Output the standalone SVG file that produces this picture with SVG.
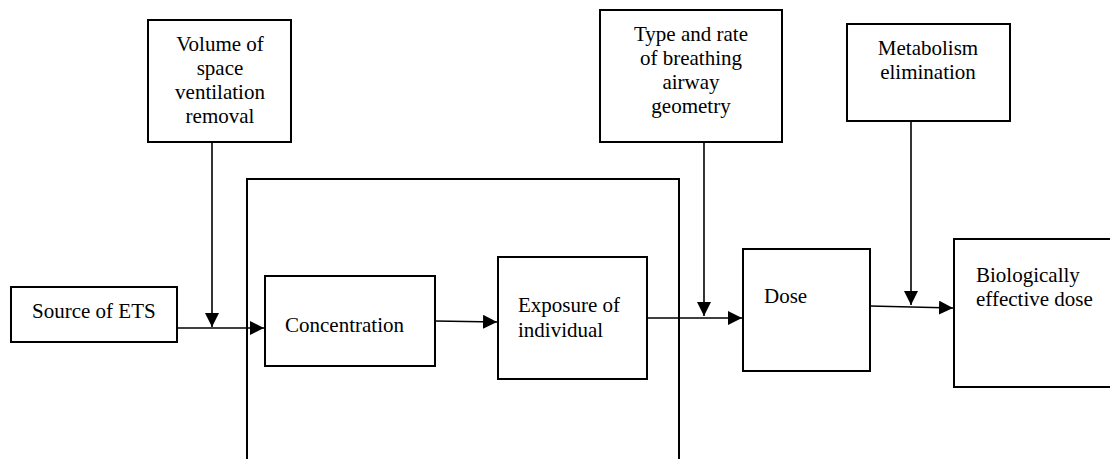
<svg xmlns="http://www.w3.org/2000/svg" width="1110" height="459" viewBox="0 0 1110 459" font-family="'Liberation Serif', 'Times New Roman', 'DejaVu Serif', serif">
<style>
.box{fill:#fff;stroke:#000;stroke-width:2}
.ln{fill:none;stroke:#000;stroke-width:1.6}
text{font-family:'Liberation Serif','Times New Roman','DejaVu Serif',serif;font-size:21px;fill:#000}
.c{text-anchor:middle}
</style>
<defs>
<marker id="ah" viewBox="0 0 14 14" refX="14" refY="7" markerWidth="14" markerHeight="14" markerUnits="userSpaceOnUse" orient="auto">
<path d="M0,0 L14,7 L0,14 Z" fill="#000"/>
</marker>
</defs>
<rect width="1110" height="459" fill="#fff"/>
<g id="frame">
<path class="ln" d="M247,459 V179 H679 V459" style="stroke-width:2"/>
</g>
<g id="connectors">
<path class="ln" d="M177,328 H264" marker-end="url(#ah)"/>
<path class="ln" d="M212,142 V327" marker-end="url(#ah)"/>
<path class="ln" d="M435,321 L497,322" marker-end="url(#ah)"/>
<path class="ln" d="M647,318 H742" marker-end="url(#ah)"/>
<path class="ln" d="M704,142 V316" marker-end="url(#ah)"/>
<path class="ln" d="M870,306 L953,308" marker-end="url(#ah)"/>
<path class="ln" d="M911,121 V305" marker-end="url(#ah)"/>
</g>
<g id="volume">
<rect class="box" x="148" y="20" width="143" height="122"/>
<text class="c" x="220" y="51">Volume of</text>
<text class="c" x="220" y="75">space</text>
<text class="c" x="220" y="99">ventilation</text>
<text class="c" x="220" y="123">removal</text>
</g>
<g id="source">
<rect class="box" x="11" y="287" width="166" height="55"/>
<text x="32" y="318">Source of ETS</text>
</g>
<g id="concentration">
<rect class="box" x="265" y="276" width="170" height="90"/>
<text x="285" y="332">Concentration</text>
</g>
<g id="exposure">
<rect class="box" x="498" y="257" width="149" height="122"/>
<text x="518" y="312">Exposure of</text>
<text x="518" y="337">individual</text>
</g>
<g id="type">
<rect class="box" x="600" y="10" width="182" height="132"/>
<text class="c" x="691" y="41">Type and rate</text>
<text class="c" x="691" y="65">of breathing</text>
<text class="c" x="691" y="89">airway</text>
<text class="c" x="691" y="113">geometry</text>
</g>
<g id="dose">
<rect class="box" x="743" y="249" width="127" height="122"/>
<text x="764" y="303">Dose</text>
</g>
<g id="metabolism">
<rect class="box" x="847" y="24" width="163" height="97"/>
<text class="c" x="928" y="55">Metabolism</text>
<text class="c" x="928" y="79">elimination</text>
</g>
<g id="biological">
<rect class="box" x="954" y="239" width="170" height="148"/>
<text x="976" y="282">Biologically</text>
<text x="976" y="306">effective dose</text>
</g>
</svg>
